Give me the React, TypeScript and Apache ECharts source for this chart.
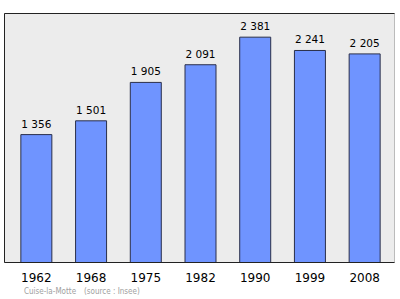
import React, { useEffect, useRef } from "react";
import * as echarts from "echarts";

const years = ["1962", "1968", "1975", "1982", "1990", "1999", "2008"];
const population = [1356, 1501, 1905, 2091, 2381, 2241, 2205];
const sourceName = "Cuise-la-Motte";
const sourceNote = "(source : Insee)";

const fmt = (v: number) => {
  const s = String(v);
  return s.length > 3 ? s.slice(0, s.length - 3) + " " + s.slice(-3) : s;
};

export default function App() {
  const ref = useRef<HTMLDivElement>(null);
  useEffect(() => {
    if (!ref.current) return;
    const chart = echarts.init(ref.current, null, { renderer: "svg" });
    chart.setOption({
      animation: false,
      backgroundColor: "#ffffff",
      textStyle: { fontFamily: "DejaVu Sans" },
      grid: { left: 9, right: 8, top: 13, bottom: 36, containLabel: false },
      graphic: [
        {
          type: "rect",
          z: -10,
          silent: true,
          shape: { x: 4.5, y: 13.5, width: 390, height: 249 },
          style: { fill: "#ececec", stroke: "#bbbbbb", lineWidth: 1 },
        },
        {
          type: "polyline",
          z: 10,
          silent: true,
          shape: { points: [[394.5, 262.5], [4.5, 262.5], [4.5, 13.5], [394.5, 13.5]] },
          style: { fill: null, stroke: "#222222", lineWidth: 1 },
        },
        {
          type: "text",
          left: 24,
          top: 287,
          style: { text: sourceName, fill: "#a0a0a0", fontSize: 8, fontFamily: "DejaVu Sans Condensed, DejaVu Sans" },
        },
        {
          type: "text",
          left: 84,
          top: 287,
          style: { text: sourceNote, fill: "#a0a0a0", fontSize: 8, fontFamily: "DejaVu Sans Condensed, DejaVu Sans" },
        },
      ],
      xAxis: {
        type: "category",
        data: years,
        axisLine: { show: false },
        axisTick: { show: false },
        axisLabel: { color: "#000", fontSize: 12, margin: 9, fontFamily: "DejaVu Sans" },
      },
      yAxis: {
        type: "value",
        min: 0,
        max: 2630,
        show: false,
        splitLine: { show: false },
      },
      series: [
        {
          type: "bar",
          data: population,
          barWidth: 32,
          itemStyle: { color: "#6f94ff", borderColor: "#2a2f4a", borderWidth: 1 },
          label: {
            show: true,
            position: "top",
            distance: 5,
            color: "#000",
            fontSize: 10.5,
            fontFamily: "DejaVu Sans",
            formatter: (p: any) => fmt(p.value),
          },
        },
      ],
    });
    return () => chart.dispose();
  }, []);
  return <div ref={ref} style={{ width: 400, height: 299, position: "absolute", left: 0, top: 0 }} />;
}
